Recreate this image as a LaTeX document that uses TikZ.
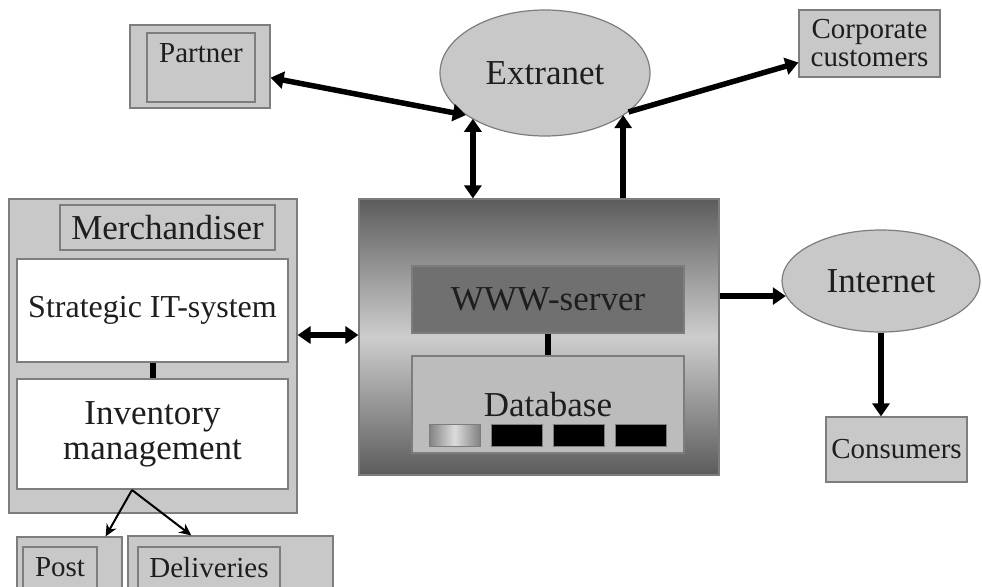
\documentclass[tikz,border=0pt]{standalone}
\usepackage{fontspec}
\setmainfont{Liberation Serif}
\usepackage{tikz}
\usetikzlibrary{arrows.meta, calc, shapes.geometric}
\usepackage{xcolor}
\definecolor{boxgray}{RGB}{200,200,200}
\definecolor{edgegray}{RGB}{125,125,125}
\definecolor{srvdark}{RGB}{92,92,92}
\definecolor{srvlight}{RGB}{205,205,205}
\definecolor{wwwgray}{RGB}{112,112,112}
\definecolor{dbgray}{RGB}{188,188,188}
\definecolor{diskdark}{RGB}{130,130,130}
\definecolor{disklight}{RGB}{220,220,220}
\definecolor{inkgray}{RGB}{30,30,30}
\newcommand{\txtbig}{\fontsize{35}{35}\selectfont}
\newcommand{\txtmid}{\fontsize{32}{34}\selectfont}
\newcommand{\txtsmall}{\fontsize{29}{28}\selectfont}
\tikzset{
  graybox/.style={draw=edgegray, fill=boxgray, line width=1.2pt, inner sep=0pt, text=inkgray},
  whitebox/.style={graybox, fill=white},
  netoval/.style={ellipse, draw=edgegray, fill=boxgray, line width=1.2pt, inner sep=0pt, text=inkgray},
  diskbox/.style={draw=edgegray, line width=0.8pt, minimum width=51pt, minimum height=22pt, inner sep=0pt},
  boxlabel/.style={anchor=north, inner sep=0pt, yshift=-11pt, text=inkgray, font=\txtsmall},
  bigarrow/.style={line width=5.5pt, -{Triangle[length=13pt,width=17pt]}},
  bothway/.style={line width=5.5pt, {Triangle[length=13pt,width=17pt]}-{Triangle[length=13pt,width=17pt]}},
  thinarrow/.style={line width=2pt, -{Stealth[length=12pt,width=11pt]}},
}

\begin{document}
\begin{tikzpicture}[x=1pt, y=-1pt]
  \useasboundingbox (0,0) rectangle (982,586);
  \clip (0,0) rectangle (982,586);

  % partner, extranet, corporate customers
  \node[graybox, minimum width=140pt, minimum height=83pt] (partnerbox) at (200,66.5) {};
  \node[graybox, minimum width=108pt, minimum height=69pt, label={[boxlabel]north:Partner}] (partner) at (201,67.5) {};
  \node[netoval, minimum width=210pt, minimum height=126pt, font=\txtbig] (extranet) at (545,73) {Extranet};
  \node[graybox, minimum width=141pt, minimum height=67pt, align=center, font=\txtsmall] (corporate) at (869.5,43.5) {Corporate\\customers};

  % merchandiser panel
  \node[graybox, minimum width=288pt, minimum height=314pt] (merch) at (153,356) {};
  \node[graybox, minimum width=215pt, minimum height=45pt, font=\txtbig] (merchlabel) at (167.5,227.5) {Merchandiser};
  \node[whitebox, minimum width=271pt, minimum height=103pt, font=\txtmid] (strategic) at (152.5,310.5) {Strategic IT-system};
  \node[whitebox, minimum width=271pt, minimum height=110pt, font=\txtbig, align=center] (inventory) at (152.5,434) {Inventory\\management};
  \draw[line width=6pt] (strategic) -- (inventory);

  % post and deliveries
  \node[graybox, minimum width=105pt, minimum height=63pt] (postbox) at (69.5,568.5) {};
  \node[graybox, minimum width=74pt, minimum height=53pt, label={[boxlabel]north:Post}] (post) at (60,573.5) {};
  \node[graybox, minimum width=205pt, minimum height=64pt] (delivbox) at (230.5,568) {};
  \node[graybox, minimum width=142pt, minimum height=53pt, label={[boxlabel]north:Deliveries}] (deliv) at (209,573.5) {};
  \coordinate (split) at (132,490);
  \draw[thinarrow] (split) -- ($(postbox.north west)!0.84!(postbox.north east)$);
  \draw[thinarrow] (split) -- ($(delivbox.north west)!0.31!(delivbox.north east)$);

  % server
  \node[draw=edgegray, line width=1.2pt, minimum width=360pt, minimum height=276pt,
        top color=srvdark, bottom color=srvdark, middle color=srvlight] (server) at (539,337) {};
  \node[graybox, fill=wwwgray, minimum width=272pt, minimum height=67pt, font=\txtbig] (www) at (548,299.5) {WWW-server};
  \node[graybox, fill=dbgray, minimum width=272pt, minimum height=97pt, font=\txtbig] (database) at (548,404.5) {Database};
  \draw[line width=6pt] (www) -- (database);
  \node[diskbox, left color=diskdark, right color=diskdark, middle color=disklight] (disk1) at (454.5,435) {};
  \foreach \x [count=\i from 2] in {517,578.5,641}
    \node[diskbox, fill=black] (disk\i) at (\x,435) {};

  % internet and consumers
  \node[netoval, minimum width=198pt, minimum height=102pt, font=\txtbig] (internet) at (881,281) {Internet};
  \node[graybox, minimum width=141pt, minimum height=65pt, font=\txtsmall] (consumers) at (896.5,449.5) {Consumers};

  % connectors
  \draw[bothway] (partnerbox.-9) -- (extranet.208);
  \draw[bigarrow] (extranet.-25) -- (corporate.195);
  \coordinate (upleft) at ($(server.north west)!0.317!(server.north east)$);
  \coordinate (upright) at ($(server.north west)!0.733!(server.north east)$);
  \draw[bothway] (upleft) -- (upleft |- extranet.212);
  \draw[bigarrow] (upright) -- (upright |- extranet.-28);
  \coordinate (sidelink) at (330,335);
  \draw[bothway] (sidelink -| merch.east) -- (sidelink -| server.west);
  \draw[bigarrow] (server.east |- internet.189) -- (internet.189);
  \draw[bigarrow] (internet.south) -- (internet.south |- consumers.north);
\end{tikzpicture}
\end{document}
